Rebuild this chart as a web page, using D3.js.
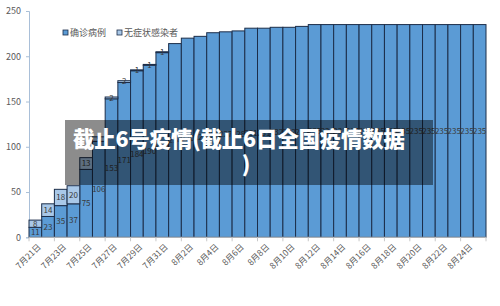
<!DOCTYPE html>
<html>
<head>
<meta charset="utf-8">
<script src="https://cdn.jsdelivr.net/npm/d3@7"></script>
<style>
  body { margin: 0; background: #fff; }
  text { font-family: "Noto Sans CJK SC", "Noto Sans", sans-serif; }
</style>
</head>
<body>
<script>
// categories: 7月21日 .. 8月25日
var dates = [];
for (var d = 21; d <= 31; d++) dates.push('7月' + d + '日');
for (var d = 1; d <= 25; d++) dates.push('8月' + d + '日');

// 确诊病例 (confirmed)
var confirmed = [11, 23, 35, 37, 75, 106, 153, 171, 184, 190, 204,
                 214, 220, 222, 226, 227, 228, 231, 231, 232, 232, 233,
                 235, 235, 235, 235, 235, 235, 235, 235, 235, 235, 235, 235, 235, 235];
// 无症状感染者 (asymptomatic)
var asymptomatic = [8, 14, 18, 20, 13, 5, 2, 2, 1, 1, 1,
                    0, 0, 0, 0, 0, 0, 0, 0, 0, 0, 0,
                    0, 0, 0, 0, 0, 0, 0, 0, 0, 0, 0, 0, 0, 0];
var series_names = ['确诊病例', '无症状感染者'];
var y_ticks = [0, 50, 100, 150, 200, 250];
var title_lines = ['截止6号疫情(截止6日全国疫情数据', ')'];

var width = 500, height = 306;
var svg = d3.select('body').append('svg').attr('width', width).attr('height', height);

var x_scale = d3.scaleBand().domain(dates).range([29, 486]).padding(0);
var y_scale = d3.scaleLinear().domain([0, 250]).range([237.3, 11]);

var colors = ['#5b9bd5', '#a9c8e8'];

// y axis
var y_axis = svg.append('g').attr('transform', 'translate(29,0)')
    .call(d3.axisLeft(y_scale).tickValues(y_ticks).tickSize(3).tickPadding(5));
y_axis.select('.domain').attr('stroke', '#a9bfd8');
y_axis.selectAll('.tick line').attr('stroke', '#a9bfd8');
y_axis.selectAll('text').attr('fill', '#595959').style('font-size', '9px');

// stacked data
var data = dates.map(function(d, i) { return {date: d, c: confirmed[i], a: asymptomatic[i]}; });

var bars = svg.append('g');
bars.selectAll('rect.c').data(data).enter().append('rect')
    .attr('x', d => x_scale(d.date))
    .attr('width', x_scale.bandwidth())
    .attr('y', d => y_scale(d.c))
    .attr('height', d => y_scale(0) - y_scale(d.c))
    .attr('fill', colors[0]).attr('stroke', '#1c2e4a').attr('stroke-width', 1);
bars.selectAll('rect.a').data(data.filter(d => d.a > 0)).enter().append('rect')
    .attr('x', d => x_scale(d.date))
    .attr('width', x_scale.bandwidth())
    .attr('y', d => y_scale(d.c + d.a))
    .attr('height', d => y_scale(d.c) - y_scale(d.c + d.a))
    .attr('fill', colors[1]).attr('stroke', '#1c2e4a').attr('stroke-width', 1);

// x axis
var x_axis = svg.append('g').attr('transform', 'translate(0,' + y_scale(0) + ')');
x_axis.append('line').attr('x1', 29).attr('x2', 486).attr('stroke', '#c8c8c8');
x_axis.selectAll('line.tick').data(dates.filter((d, i) => i % 2 == 0).concat(['end'])).enter().append('line')
    .attr('x1', d => d == 'end' ? 486 : x_scale(d)).attr('x2', d => d == 'end' ? 486 : x_scale(d))
    .attr('y1', 0).attr('y2', 4).attr('stroke', '#c8c8c8');
x_axis.selectAll('text').data(dates.filter((d, i) => i % 2 == 0)).enter().append('text')
    .attr('transform', d => 'translate(' + (x_scale(d) + x_scale.bandwidth() / 2 + 4) + ',8) rotate(-45)')
    .attr('text-anchor', 'end').attr('dy', '0.35em')
    .attr('fill', '#595959').style('font-size', '8.5px')
    .text(d => d);

// data labels
var labels = svg.append('g').style('font-size', '8px').attr('fill', '#3a3a3a').attr('text-anchor', 'middle');
labels.selectAll('text.c').data(data).enter().append('text')
    .attr('x', d => x_scale(d.date) + x_scale.bandwidth() / 2)
    .attr('y', d => y_scale(d.c / 2)).attr('dy', '0.35em')
    .text(d => d.c);
labels.selectAll('text.a').data(data.filter(d => d.a > 0)).enter().append('text')
    .attr('x', d => x_scale(d.date) + x_scale.bandwidth() / 2)
    .attr('y', d => y_scale(d.c + d.a / 2)).attr('dy', '0.35em')
    .text(d => d.a);

// legend
var legend = svg.append('g').attr('transform', 'translate(63,30)');
var lg = legend.selectAll('g').data(series_names).enter().append('g')
    .attr('transform', (d, i) => 'translate(' + (i * 54) + ',0)');
lg.append('rect').attr('width', 5).attr('height', 5)
    .attr('fill', (d, i) => colors[i]).attr('stroke', '#1c2e4a').attr('stroke-width', 0.8);
lg.append('text').attr('x', 7).attr('y', 2.5).attr('dy', '0.35em')
    .attr('fill', '#595959').style('font-size', '9px').text(d => d);

// title overlay
svg.append('rect').attr('x', 65).attr('y', 120).attr('width', 368).attr('height', 65)
    .attr('fill', '#000').attr('fill-opacity', 0.45);
svg.append('g').selectAll('text').data(title_lines).enter().append('text')
    .attr('x', (d, i) => i == 0 ? 73 : 246).attr('y', (d, i) => 147 + i * 25)
    .attr('text-anchor', (d, i) => i == 0 ? 'start' : 'middle').attr('fill', '#fff')
    .style('font-size', '21.5px').style('font-weight', '900')
    .attr('textLength', (d, i) => i == 0 ? 332 : null)
    .text(d => d);
</script>
</body>
</html>
